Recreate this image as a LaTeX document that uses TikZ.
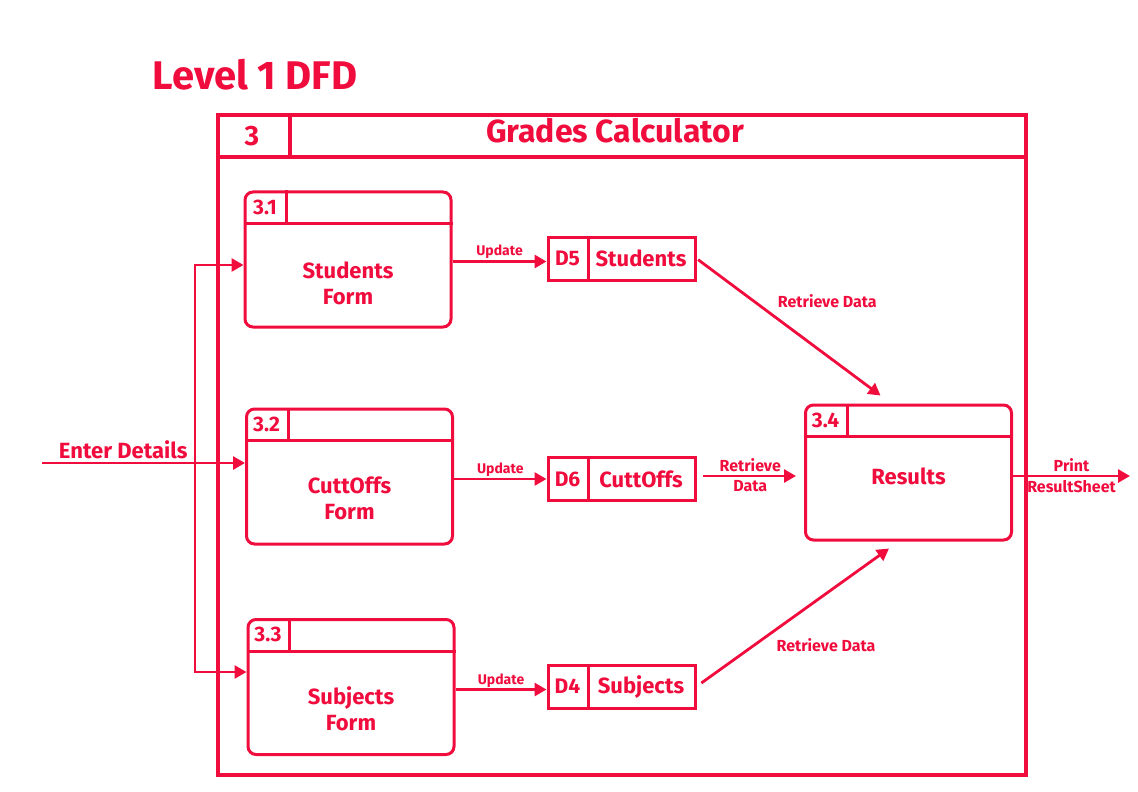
\documentclass[tikz,border=0pt]{standalone}
\usepackage{fontspec}
\setmainfont{Fira Sans}
\usetikzlibrary{arrows.meta}
\definecolor{dfdred}{RGB}{240,12,60}
\tikzstyle{proc} = [draw,rounded corners=4pt,line width=1.5pt,minimum width=103pt,minimum height=67.5pt,inner sep=0pt]
\tikzstyle{store} = [draw,line width=1.5pt,minimum width=73.5pt,minimum height=21.5pt,inner sep=0pt]
\tikzstyle{flow} = [-{Triangle[length=6pt,width=6.5pt]},line width=1.4pt]
\tikzstyle{lbl} = [font=\bfseries\fontsize{11}{13}\selectfont,align=center]
\tikzstyle{small} = [font=\bfseries\fontsize{8}{9}\selectfont,inner sep=1.5pt,align=center]

\begin{document}
\begin{tikzpicture}[x=0.5pt,y=-0.5pt,draw=dfdred,text=dfdred]
		\useasboundingbox (0,0) rectangle (1138,791);
		\node [font=\bfseries\fontsize{20}{24}\selectfont] (title) at (255,75) {Level 1 DFD};

		% process 3 frame
		\node [draw,line width=2pt,minimum width=404pt,minimum height=330pt,inner sep=0pt,anchor=north west] (p3) at (216,113) {};
		\draw[line width=2pt] ([yshift=-22pt]p3.north west) -- ([yshift=-22pt]p3.north east);
		\draw[line width=2pt] ([xshift=37pt]p3.north west) -- ([xshift=37pt,yshift=-22pt]p3.north west);
		\node [font=\bfseries\fontsize{14}{16}\selectfont] (p3id) at (252,136) {3};
		\node [font=\bfseries\fontsize{16}{18}\selectfont] (p3name) at (615,131) {Grades Calculator};

		% sub processes
		\node [proc] (p31) at (348,259.5) {};
		\node [proc] (p32) at (349.5,476.5) {};
		\node [proc] (p33) at (351,687) {};
		\node [proc] (p34) at (908.5,472.5) {};
		\draw[line width=1.5pt] ([yshift=-16.5pt]p31.north west) -- ([yshift=-16.5pt]p31.north east);
		\draw[line width=1.5pt] ([xshift=21.5pt]p31.north west) -- ([xshift=21.5pt,yshift=-16.5pt]p31.north west);
		\draw[line width=1.5pt] ([yshift=-16.5pt]p32.north west) -- ([yshift=-16.5pt]p32.north east);
		\draw[line width=1.5pt] ([xshift=21.5pt]p32.north west) -- ([xshift=21.5pt,yshift=-16.5pt]p32.north west);
		\draw[line width=1.5pt] ([yshift=-16.5pt]p33.north west) -- ([yshift=-16.5pt]p33.north east);
		\draw[line width=1.5pt] ([xshift=21.5pt]p33.north west) -- ([xshift=21.5pt,yshift=-16.5pt]p33.north west);
		\draw[line width=1.5pt] ([yshift=-16.5pt]p34.north west) -- ([yshift=-16.5pt]p34.north east);
		\draw[line width=1.5pt] ([xshift=21.5pt]p34.north west) -- ([xshift=21.5pt,yshift=-16.5pt]p34.north west);
		\node [lbl,font=\bfseries\fontsize{10.5}{12}\selectfont] at ([xshift=10.75pt,yshift=-8.25pt]p31.north west) {3.1};
		\node [lbl,font=\bfseries\fontsize{10.5}{12}\selectfont] at ([xshift=10.75pt,yshift=-8.25pt]p32.north west) {3.2};
		\node [lbl,font=\bfseries\fontsize{10.5}{12}\selectfont] at ([xshift=10.75pt,yshift=-8.25pt]p33.north west) {3.3};
		\node [lbl,font=\bfseries\fontsize{10.5}{12}\selectfont] at ([xshift=10.75pt,yshift=-8.25pt]p34.north west) {3.4};
		\node [lbl] at ([yshift=-12pt]p31.center) {Students\\Form};
		\node [lbl] at ([yshift=-11pt]p32.center) {CuttOffs\\Form};
		\node [lbl] at ([yshift=-11pt]p33.center) {Subjects\\Form};
		\node [lbl] at ([yshift=-2pt]p34.center) {Results};

		% data stores
		\node [store] (d5) at (621.5,258.5) {};
		\node [store] (d6) at (621.5,479) {};
		\node [store] (d4) at (621.5,686.5) {};
		\draw[line width=1.5pt] ([xshift=21pt]d5.north west) -- ([xshift=21pt]d5.south west);
		\draw[line width=1.5pt] ([xshift=21pt]d6.north west) -- ([xshift=21pt]d6.south west);
		\draw[line width=1.5pt] ([xshift=21pt]d4.north west) -- ([xshift=21pt]d4.south west);
		\node [lbl,font=\bfseries\fontsize{10.5}{12}\selectfont] at ([xshift=10.5pt]d5.west) {D5};
		\node [lbl,font=\bfseries\fontsize{10.5}{12}\selectfont] at ([xshift=10.5pt]d6.west) {D6};
		\node [lbl,font=\bfseries\fontsize{10.5}{12}\selectfont] at ([xshift=10.5pt]d4.west) {D4};
		\node [lbl] at ([xshift=47.25pt]d5.west) {Students};
		\node [lbl] at ([xshift=47.25pt]d6.west) {CuttOffs};
		\node [lbl] at ([xshift=47.25pt]d4.west) {Subjects};

		% input bus
		\coordinate (ent) at (42,463);
		\coordinate (b1) at (195,265);
		\coordinate (b3) at (195,672);
		\coordinate (out) at (1130,476);
		\draw[flow] (ent) -- node[small,pos=0.4,above,font=\bfseries\fontsize{11}{13}\selectfont]{Enter Details} (ent -| p32.west);
		\draw[{Triangle[length=6pt,width=6.5pt]}-{Triangle[length=6pt,width=6.5pt]},line width=1.4pt] (b1 -| p31.west) -- (b1) -- (b3) -- (b3 -| p33.west);

		% flows
		\draw[flow] ([yshift=-1.5pt]p31.east |- d5.west) -- node[small,above,inner sep=0.5pt,font=\bfseries\fontsize{7}{8}\selectfont]{Update} ([yshift=-1.5pt]d5.west);
		\draw[flow] (p32.east |- d6.west) -- node[small,above,inner sep=0.5pt,font=\bfseries\fontsize{7}{8}\selectfont]{Update} (d6.west);
		\draw[flow] ([yshift=-1.5pt]p33.east |- d4.west) -- node[small,above,inner sep=0.5pt,font=\bfseries\fontsize{7}{8}\selectfont]{Update} ([yshift=-1.5pt]d4.west);
		\draw[flow,shorten <=1pt] (d5.east) -- node[small,pos=0.31,right=10pt]{Retrieve Data} ([xshift=-14pt,yshift=4pt]p34.north);
		\draw[flow,shorten <=3pt,shorten >=4pt] ([yshift=1.5pt]d6.east) -- node[small,above]{Retrieve} node[small,below]{Data} ([yshift=1.5pt]p34.west |- d6.east);
		\draw[flow,shorten <=3pt] (d4.east) -- node[small,pos=0.3,right=9pt]{Retrieve Data} ([xshift=-9.75pt,yshift=-3.5pt]p34.south);
		\draw[flow] (p34.east |- out) -- node[small,above]{Print} node[small,below]{ResultSheet} (out);
		\end{tikzpicture}
\end{document}
